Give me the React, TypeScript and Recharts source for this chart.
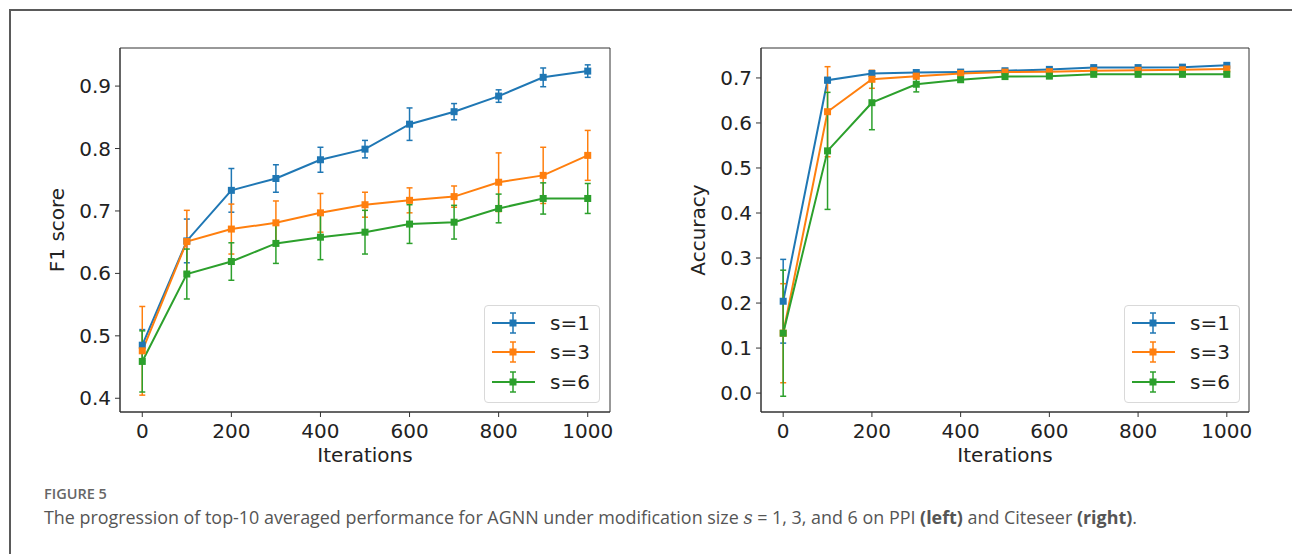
import React from 'react';
import {
  ComposedChart,
  Line,
  ErrorBar,
  XAxis,
  YAxis,
  Legend,
  ReferenceArea,
} from 'recharts';

// iterations on the x axis (both panels)
const iterations = [0, 100, 200, 300, 400, 500, 600, 700, 800, 900, 1000];

// PPI, F1 score (left panel)
const f1S1 = [0.485, 0.652, 0.733, 0.752, 0.782, 0.799, 0.839, 0.859, 0.884, 0.914, 0.924];
const f1S1Err = [0.025, 0.035, 0.035, 0.022, 0.02, 0.014, 0.026, 0.013, 0.01, 0.015, 0.01];
const f1S3 = [0.476, 0.651, 0.671, 0.681, 0.697, 0.71, 0.717, 0.723, 0.746, 0.757, 0.789];
const f1S3Err = [0.071, 0.05, 0.04, 0.035, 0.031, 0.02, 0.02, 0.017, 0.047, 0.045, 0.04];
const f1S6 = [0.459, 0.599, 0.619, 0.648, 0.658, 0.666, 0.679, 0.682, 0.704, 0.72, 0.72];
const f1S6Err = [0.049, 0.04, 0.03, 0.032, 0.036, 0.035, 0.031, 0.027, 0.023, 0.025, 0.024];

// Citeseer, accuracy (right panel)
const accS1 = [0.204, 0.695, 0.71, 0.712, 0.713, 0.716, 0.719, 0.723, 0.723, 0.724, 0.728];
const accS1Err = [0.093, 0.006, 0.004, 0.003, 0.003, 0.003, 0.003, 0.003, 0.003, 0.003, 0.003];
const accS3 = [0.133, 0.625, 0.697, 0.704, 0.71, 0.713, 0.714, 0.716, 0.717, 0.718, 0.72];
const accS3Err = [0.11, 0.1, 0.02, 0.006, 0.004, 0.003, 0.003, 0.003, 0.003, 0.003, 0.003];
const accS6 = [0.133, 0.538, 0.645, 0.686, 0.696, 0.703, 0.704, 0.708, 0.708, 0.708, 0.708];
const accS6Err = [0.14, 0.13, 0.06, 0.017, 0.005, 0.004, 0.004, 0.003, 0.003, 0.003, 0.003];

const xTicks = [0, 200, 400, 600, 800, 1000];
const f1Ticks = [0.4, 0.5, 0.6, 0.7, 0.8, 0.9];
const accTicks = [0.0, 0.1, 0.2, 0.3, 0.4, 0.5, 0.6, 0.7];

const seriesNames = ['s=1', 's=3', 's=6'];
const colors = ['#1f77b4', '#ff7f0e', '#2ca02c'];

const FONT = '"DejaVu Sans", sans-serif';
const TEXT = '#222';

const buildRows = (vals: number[][], errs: number[][]) =>
  iterations.map((it, i) => ({
    iter: it,
    s1: vals[0][i],
    s1e: errs[0][i],
    s3: vals[1][i],
    s3e: errs[1][i],
    s6: vals[2][i],
    s6e: errs[2][i],
  }));

const f1Data = buildRows([f1S1, f1S3, f1S6], [f1S1Err, f1S3Err, f1S6Err]);
const accData = buildRows([accS1, accS3, accS6], [accS1Err, accS3Err, accS6Err]);

const squareDot = (color: string) => (props: any) => {
  const { cx, cy, index } = props;
  if (cx == null || cy == null) return <g key={index} />;
  return <rect key={index} x={cx - 3.5} y={cy - 3.5} width={7} height={7} fill={color} />;
};

const LegendBox = () => (
  <div
    style={{
      width: 114,
      height: 94,
      border: '1px solid #d9d9d9',
      borderRadius: 4,
      background: 'rgba(255,255,255,0.8)',
      boxSizing: 'content-box',
      paddingTop: 2,
    }}
  >
    {seriesNames.map((name, i) => (
      <div key={name} style={{ display: 'flex', alignItems: 'center', height: 29.5 }}>
        <svg width={60} height={24} style={{ display: 'block' }}>
          <line x1={7} y1={12} x2={50} y2={12} stroke={colors[i]} strokeWidth={2} />
          <line x1={28} y1={2} x2={28} y2={22} stroke={colors[i]} strokeWidth={1.5} />
          <line x1={25} y1={2} x2={31} y2={2} stroke={colors[i]} strokeWidth={1.5} />
          <line x1={25} y1={22} x2={31} y2={22} stroke={colors[i]} strokeWidth={1.5} />
          <rect x={24.5} y={8.5} width={7} height={7} fill={colors[i]} />
        </svg>
        <span style={{ fontFamily: FONT, fontSize: 20, color: TEXT, marginLeft: 5 }}>{name}</span>
      </div>
    ))}
  </div>
);

type PanelProps = {
  data: any[];
  yTicks: number[];
  yDomain: [number, number];
  yLabel: string;
  left: number;
  yAxisWidth: number;
  rightMargin: number;
};

const Panel = ({ data, yTicks, yDomain, yLabel, left, yAxisWidth, rightMargin }: PanelProps) => (
  <div style={{ position: 'absolute', left, top: 0 }}>
    <ComposedChart
      width={640}
      height={500}
      data={data}
      margin={{ top: 48, right: rightMargin, bottom: 6, left: 0 }}
      style={{ fontFamily: FONT }}
    >
      <XAxis
        dataKey='iter'
        type='number'
        domain={[-50, 1050]}
        ticks={xTicks}
        allowDataOverflow
        height={82}
        tickSize={5}
        tickMargin={7}
        stroke='#333'
        tick={{ fontSize: 20, fill: TEXT }}
        label={{ value: 'Iterations', position: 'center', dy: 2, fontSize: 20, fill: TEXT }}
      />
      <YAxis
        type='number'
        domain={yDomain}
        ticks={yTicks}
        allowDataOverflow
        width={yAxisWidth}
        tickSize={5}
        tickMargin={4}
        stroke='#333'
        tickFormatter={(v: number) => v.toFixed(1)}
        tick={{ fontSize: 20, fill: TEXT }}
        label={{ value: yLabel, position: 'center', angle: -90, dx: -3, fontSize: 20, fill: TEXT }}
      />
      <ReferenceArea
        x1={-50}
        x2={1050}
        y1={yDomain[0]}
        y2={yDomain[1]}
        fill='none'
        fillOpacity={0}
        stroke='#333'
        strokeWidth={1}
        ifOverflow='visible'
      />
      {['s1', 's3', 's6'].map((key, i) => (
        <Line
          key={key}
          name={seriesNames[i]}
          dataKey={key}
          stroke={colors[i]}
          strokeWidth={2}
          dot={squareDot(colors[i])}
          activeDot={false}
          isAnimationActive={false}
        >
          <ErrorBar
            dataKey={`${key}e`}
            direction='y'
            width={3}
            stroke={colors[i]}
            strokeWidth={1.5}
            isAnimationActive={false}
          />
        </Line>
      ))}
      <Legend
        layout='vertical'
        align='center'
        verticalAlign='middle'
        content={() => <LegendBox />}
        wrapperStyle={{ position: 'absolute', left: 484, top: 305, width: 116, height: 97 }}
      />
    </ComposedChart>
  </div>
);

export default function App() {
  return (
    <div
      style={{
        position: 'absolute',
        left: 0,
        top: 0,
        width: 1292,
        height: 554,
        background: '#fff',
        overflow: 'hidden',
      }}
    >
      <div
        style={{
          position: 'absolute',
          left: 9,
          top: 9,
          width: 1300,
          height: 560,
          borderTop: '2px solid #5a5a5a',
          borderLeft: '2px solid #5a5a5a',
        }}
      />
      <Panel
        data={f1Data}
        yTicks={f1Ticks}
        yDomain={[0.378, 0.961]}
        yLabel='F1 score'
        left={0}
        yAxisWidth={120}
        rightMargin={30}
      />
      <Panel
        data={accData}
        yTicks={accTicks}
        yDomain={[-0.042, 0.7665]}
        yLabel='Accuracy'
        left={640}
        yAxisWidth={121}
        rightMargin={31}
      />
      <div
        style={{
          position: 'absolute',
          left: 44,
          top: 484,
          fontFamily: '"Open Sans", sans-serif',
          fontSize: 14.5,
          fontWeight: 600,
          color: '#666',
          lineHeight: '20px',
        }}
      >
        FIGURE 5
      </div>
      <div
        style={{
          position: 'absolute',
          left: 44,
          top: 504,
          fontFamily: '"Open Sans", sans-serif',
          fontSize: 17.9,
          color: '#555',
          whiteSpace: 'nowrap',
          lineHeight: '26px',
        }}
      >
        The progression of top-10 averaged performance for AGNN under modification size{' '}
        <i style={{ fontFamily: '"DejaVu Serif", serif' }}>s</i> = 1, 3, and 6 on PPI{' '}
        <b>(left)</b> and Citeseer <b>(right)</b>.
      </div>
    </div>
  );
}
